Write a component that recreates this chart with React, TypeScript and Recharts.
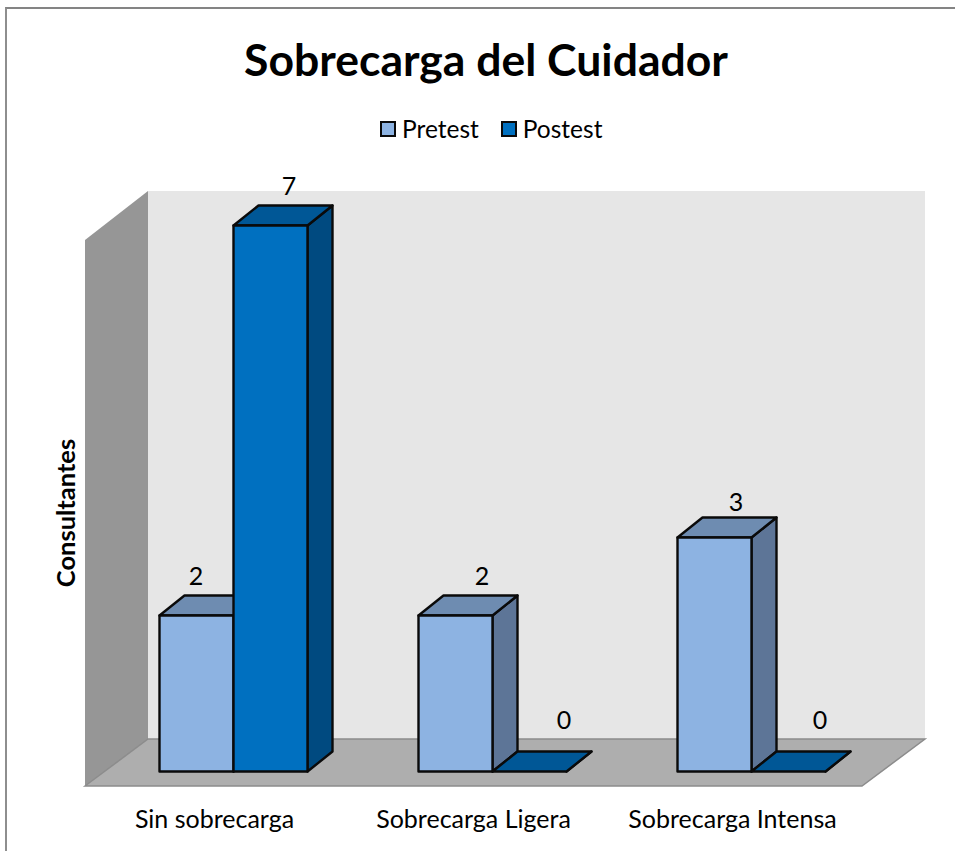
import { BarChart, Bar, XAxis, YAxis, LabelList, usePlotArea } from 'recharts';

const categories = ['Sin sobrecarga', 'Sobrecarga Ligera', 'Sobrecarga Intensa'];
const pretest = [2, 2, 3];
const postest = [7, 0, 0];

const chartData = categories.map((name, i) => ({ name, pretest: pretest[i], postest: postest[i] }));

const FONT = 'Lato, "Open Sans", sans-serif';

// 3D look: bars sit a bit behind the front edge of the floor
const WALL_DX = 63;
const WALL_DY = -47;
const WALL_TOP_DY = -49;
const BAR_SHIFT_X = 18.5;
const BAR_SHIFT_Y = -14.5;
const BAR_DX = 25;
const BAR_DY = -20;

const pts = (list: number[][]) => list.map((p) => p.join(',')).join(' ');

function Walls() {
  const area = usePlotArea();
  if (!area) return null;
  const { x, y, width, height } = area;
  const bottom = y + height;
  const right = x + width;
  return (
    <g>
      <polygon
        points={pts([[x + WALL_DX, y + WALL_TOP_DY], [right + WALL_DX, y + WALL_TOP_DY], [right + WALL_DX, bottom + WALL_DY], [x + WALL_DX, bottom + WALL_DY]])}
        fill="#e6e6e6"
      />
      <polygon
        points={pts([[x, y], [x + WALL_DX, y + WALL_TOP_DY], [x + WALL_DX, bottom + WALL_DY], [x, bottom]])}
        fill="#969696"
      />
      <polygon
        points={pts([[x, bottom], [x + WALL_DX, bottom + WALL_DY], [right + WALL_DX, bottom + WALL_DY], [right, bottom]])}
        fill="#aeaeae"
        stroke="#8c8c8c"
        strokeWidth={1.5}
      />
    </g>
  );
}

function box3d(front: string, top: string, side: string) {
  return function Box(props: any) {
    const x = props.x + BAR_SHIFT_X;
    const y = props.y + BAR_SHIFT_Y;
    const w = props.width;
    const h = props.height;
    const line = { stroke: '#0a0a0a', strokeWidth: 2.4, strokeLinejoin: 'round' as const };
    return (
      <g>
        <polygon
          points={pts([[x + w, y], [x + w + BAR_DX, y + BAR_DY], [x + w + BAR_DX, y + h + BAR_DY], [x + w, y + h]])}
          fill={side}
          {...line}
        />
        <polygon
          points={pts([[x, y], [x + BAR_DX, y + BAR_DY], [x + w + BAR_DX, y + BAR_DY], [x + w, y]])}
          fill={top}
          {...line}
        />
        {h > 0 && <rect x={x} y={y} width={w} height={h} fill={front} {...line} />}
      </g>
    );
  };
}

// data labels were hand placed in the original, so each one has its own nudge
const pretestNudge = [[18, -55], [45, -55], [40, -51]];
const postestNudge = [[37, -55], [53, -67], [50, -67]];

function valueLabel(nudge: number[][]) {
  return function ValueLabel(props: any) {
    const { x, y, width, value, index } = props;
    return (
      <text
        x={x + width / 2 + nudge[index][0]}
        y={y + nudge[index][1]}
        textAnchor="middle"
        dominantBaseline="central"
        fontFamily={FONT}
        fontSize={25}
        fill="#000"
      >
        {value}
      </text>
    );
  };
}

const PretestBox = box3d('#8db3e2', '#6e8cb1', '#5d7597');
const PostestBox = box3d('#0070c0', '#005796', '#004a80');

function LegendItem({ color, label }: { color: string; label: string }) {
  return (
    <span style={{ display: 'inline-flex', alignItems: 'center', marginRight: 22 }}>
      <span style={{ width: 12, height: 12, background: color, border: '2px solid #0a0a0a', marginRight: 6 }} />
      {label}
    </span>
  );
}

export default function App() {
  return (
    <div style={{ position: 'absolute', left: 0, top: 0, width: 955, height: 851, background: '#fff', overflow: 'hidden', fontFamily: FONT }}>
      <div style={{ position: 'absolute', left: 5, top: 7, width: 960, height: 860, borderTop: '2px solid #848484', borderLeft: '2px solid #8e8e8e' }} />
      <div style={{ position: 'absolute', left: 0, width: 972, top: 31, textAlign: 'center', fontSize: 44.5, fontWeight: 700, lineHeight: '56px', color: '#000' }}>
        Sobrecarga del Cuidador
      </div>
      <div style={{ position: 'absolute', left: 380, top: 114, fontSize: 24.5, lineHeight: '30px', color: '#000', display: 'flex' }}>
        <LegendItem color="#8db3e2" label="Pretest" />
        <LegendItem color="#0070c0" label="Postest" />
      </div>
      <div style={{ position: 'absolute', left: 0, top: 0 }}>
        <BarChart
          width={955}
          height={851}
          data={chartData}
          margin={{ top: 240, right: 93, bottom: 0, left: 0 }}
          barSize={74}
          barGap={0}
        >
          <Walls />
          <XAxis
            dataKey="name"
            axisLine={false}
            tickLine={false}
            height={65}
            tickMargin={18}
            interval={0}
            tick={{ fontFamily: FONT, fontSize: 25, fill: '#000' }}
          />
          <YAxis
            width={85}
            domain={[0, 7]}
            tick={false}
            axisLine={false}
            tickLine={false}
            label={{
              value: 'Consultantes',
              angle: -90,
              position: 'insideLeft',
              offset: 66,
              dy: 0,
              style: { fontFamily: FONT, fontSize: 25.5, fontWeight: 700, fill: '#000', textAnchor: 'middle' },
            }}
          />
          <Bar dataKey="pretest" name="Pretest" shape={PretestBox} isAnimationActive={false}>
            <LabelList dataKey="pretest" content={valueLabel(pretestNudge)} />
          </Bar>
          <Bar dataKey="postest" name="Postest" shape={PostestBox} isAnimationActive={false}>
            <LabelList dataKey="postest" content={valueLabel(postestNudge)} />
          </Bar>
        </BarChart>
      </div>
    </div>
  );
}
